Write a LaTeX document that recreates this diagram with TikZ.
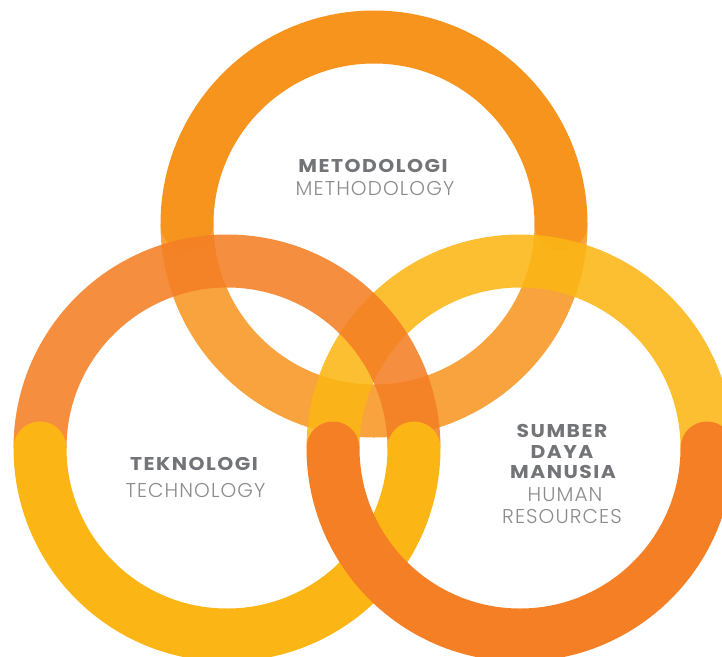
\documentclass[tikz,border=0pt]{standalone}
\usepackage{fontspec}
\setmainfont{Poppins}
\IfFontExistsTF{Poppins Light}{\newfontfamily\lightfont{Poppins Light}[LetterSpace=5.5]}{\newfontfamily\lightfont{Poppins}[LetterSpace=5.5]}
\IfFontExistsTF{Poppins Bold}{\newfontfamily\boldfont{Poppins Bold}[LetterSpace=8,FakeStretch=1.1]}{\newfontfamily\boldfont{Poppins}[LetterSpace=8,FakeStretch=1.1]}
\definecolor{toplow}{HTML}{F8A33D}
\definecolor{topup}{HTML}{F7941D}
\definecolor{yellowc}{HTML}{FBB615}
\definecolor{orangec}{HTML}{F47F24}
\definecolor{lblbold}{HTML}{737477}
\definecolor{lbllight}{HTML}{8A8B8E}
\begin{document}
\begin{tikzpicture}[x=1pt,y=-1pt,
  ring/.style={line width=53pt},
  capped/.style={ring, line cap=round},
  boldlbl/.style={font=\boldfont\fontsize{18.5}{18.5}\selectfont, text=lblbold, anchor=base, inner sep=0pt},
  lightlbl/.style={font=\lightfont\fontsize{20}{20}\selectfont, text=lbllight, anchor=base, inner sep=0pt}]
\useasboundingbox (0,0) rectangle (722,656);
\coordinate (tc) at (374,224);
\coordinate (lc) at (227,448);
\coordinate (rc) at (520,448);
% top ring
\draw[ring, draw=toplow] ([xshift=187pt]tc) arc[start angle=0, end angle=-180, radius=187pt];
\draw[capped, draw=topup] ([xshift=-187pt]tc) arc[start angle=180, end angle=0, radius=187pt];
% upper halves of lower rings
\draw[ring, draw=yellowc, draw opacity=0.88] ([xshift=-187pt]rc) arc[start angle=180, end angle=0, radius=187pt];
\draw[ring, draw=orangec, draw opacity=0.88] ([xshift=-187pt]lc) arc[start angle=180, end angle=0, radius=187pt];
% lower halves
\draw[capped, draw=yellowc] ([xshift=187pt]lc) arc[start angle=0, end angle=-180, radius=187pt];
\draw[capped, draw=orangec] ([xshift=187pt]rc) arc[start angle=0, end angle=-180, radius=187pt];
% labels
\node[boldlbl] (metb) at (373,172) {METODOLOGI};
\node[lightlbl] (metl) at (375,195) {METHODOLOGY};
\node[boldlbl] (tekb) at (194,470) {TEKNOLOGI};
\node[lightlbl] (tekl) at (195.5,497) {TECHNOLOGY};
\node[boldlbl] (sdma) at (562,437) {SUMBER};
\node[boldlbl] (sdmb) at (562,458) {DAYA};
\node[boldlbl] (sdmc) at (563,478) {MANUSIA};
\node[lightlbl] (hra) at (565,501) {HUMAN};
\node[lightlbl] (hrb) at (562,523) {RESOURCES};
\end{tikzpicture}
\end{document}
